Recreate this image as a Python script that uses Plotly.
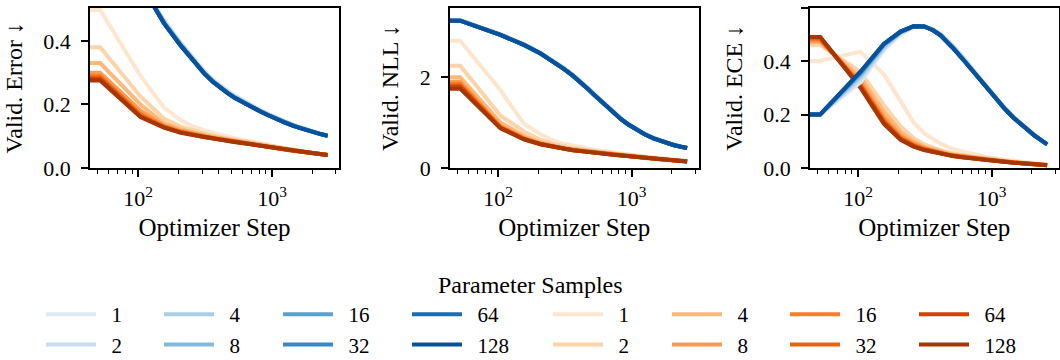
import plotly.graph_objects as go
from plotly.colors import sample_colorscale

# ---------------- data ----------------
STEPS = [52, 104, 156, 208, 260, 312, 364, 416, 468, 520, 624, 728, 832, 936, 1040,
         1248, 1456, 1664, 1872, 2080, 2340, 2600]
SAMPLES = [1, 2, 4, 8, 16, 32, 64, 128]

ERR_BLUE = [
    [0.80, 0.590, 0.465, 0.395, 0.343, 0.305, 0.278, 0.258, 0.243, 0.230, 0.210, 0.194, 0.182, 0.171, 0.162, 0.147, 0.136, 0.127, 0.120, 0.113, 0.107, 0.102],
    [0.80, 0.587, 0.462, 0.392, 0.340, 0.302, 0.275, 0.255, 0.240, 0.227, 0.207, 0.192, 0.180, 0.169, 0.160, 0.146, 0.135, 0.126, 0.119, 0.112, 0.107, 0.102],
    [0.80, 0.585, 0.460, 0.390, 0.338, 0.300, 0.273, 0.253, 0.238, 0.225, 0.205, 0.190, 0.178, 0.168, 0.159, 0.145, 0.134, 0.125, 0.118, 0.112, 0.106, 0.101],
    [0.80, 0.583, 0.458, 0.388, 0.337, 0.299, 0.272, 0.252, 0.237, 0.224, 0.204, 0.189, 0.177, 0.167, 0.158, 0.144, 0.133, 0.125, 0.118, 0.111, 0.106, 0.101],
    [0.80, 0.581, 0.456, 0.386, 0.336, 0.298, 0.271, 0.251, 0.236, 0.223, 0.204, 0.189, 0.177, 0.166, 0.158, 0.143, 0.133, 0.124, 0.117, 0.111, 0.106, 0.101],
    [0.80, 0.580, 0.455, 0.385, 0.335, 0.297, 0.270, 0.250, 0.235, 0.222, 0.203, 0.188, 0.176, 0.166, 0.157, 0.143, 0.132, 0.124, 0.117, 0.111, 0.106, 0.101],
    [0.80, 0.580, 0.455, 0.385, 0.335, 0.297, 0.270, 0.250, 0.235, 0.222, 0.203, 0.188, 0.176, 0.166, 0.157, 0.143, 0.132, 0.124, 0.117, 0.111, 0.106, 0.101],
    [0.80, 0.580, 0.455, 0.385, 0.335, 0.297, 0.270, 0.250, 0.235, 0.222, 0.203, 0.188, 0.176, 0.166, 0.157, 0.143, 0.132, 0.124, 0.117, 0.111, 0.106, 0.101],
]
ERR_ORANGE = [
    [0.497, 0.290, 0.190, 0.150, 0.130, 0.118, 0.110, 0.104, 0.099, 0.094, 0.087, 0.081, 0.076, 0.072, 0.068, 0.062, 0.057, 0.053, 0.050, 0.047, 0.044, 0.042],
    [0.380, 0.225, 0.155, 0.130, 0.118, 0.108, 0.102, 0.097, 0.093, 0.089, 0.083, 0.078, 0.073, 0.070, 0.066, 0.060, 0.056, 0.052, 0.049, 0.047, 0.044, 0.041],
    [0.330, 0.200, 0.140, 0.122, 0.111, 0.103, 0.098, 0.094, 0.090, 0.087, 0.081, 0.076, 0.072, 0.068, 0.065, 0.059, 0.055, 0.052, 0.049, 0.046, 0.043, 0.041],
    [0.300, 0.180, 0.134, 0.117, 0.107, 0.100, 0.095, 0.092, 0.088, 0.085, 0.079, 0.075, 0.071, 0.067, 0.064, 0.059, 0.055, 0.051, 0.048, 0.046, 0.043, 0.041],
    [0.290, 0.170, 0.131, 0.114, 0.105, 0.099, 0.094, 0.090, 0.087, 0.084, 0.078, 0.074, 0.070, 0.067, 0.064, 0.058, 0.054, 0.051, 0.048, 0.046, 0.043, 0.041],
    [0.285, 0.165, 0.129, 0.113, 0.104, 0.098, 0.094, 0.090, 0.086, 0.083, 0.078, 0.073, 0.070, 0.066, 0.063, 0.058, 0.054, 0.051, 0.048, 0.046, 0.043, 0.041],
    [0.280, 0.162, 0.128, 0.112, 0.103, 0.097, 0.093, 0.089, 0.086, 0.082, 0.077, 0.073, 0.069, 0.066, 0.063, 0.058, 0.054, 0.051, 0.048, 0.046, 0.043, 0.041],
    [0.275, 0.160, 0.127, 0.111, 0.103, 0.097, 0.093, 0.089, 0.085, 0.082, 0.077, 0.073, 0.069, 0.066, 0.063, 0.058, 0.054, 0.051, 0.048, 0.046, 0.043, 0.041],
]

NLL_BLUE = [
    [3.25, 2.94, 2.72, 2.53, 2.36, 2.20, 2.05, 1.91, 1.77, 1.64, 1.42, 1.24, 1.10, 0.98, 0.89, 0.76, 0.67, 0.60, 0.55, 0.51, 0.47, 0.45],
    [3.24, 2.93, 2.71, 2.52, 2.35, 2.19, 2.04, 1.90, 1.76, 1.63, 1.41, 1.23, 1.09, 0.97, 0.88, 0.75, 0.66, 0.60, 0.55, 0.51, 0.47, 0.44],
    [3.24, 2.93, 2.71, 2.52, 2.34, 2.18, 2.03, 1.89, 1.75, 1.62, 1.40, 1.22, 1.08, 0.97, 0.88, 0.75, 0.66, 0.59, 0.54, 0.50, 0.47, 0.44],
    [3.23, 2.92, 2.70, 2.51, 2.33, 2.17, 2.02, 1.88, 1.74, 1.61, 1.39, 1.21, 1.07, 0.96, 0.87, 0.74, 0.65, 0.59, 0.54, 0.50, 0.465, 0.44],
    [3.23, 2.92, 2.70, 2.51, 2.33, 2.17, 2.02, 1.88, 1.74, 1.61, 1.39, 1.21, 1.07, 0.96, 0.87, 0.74, 0.65, 0.59, 0.54, 0.50, 0.465, 0.44],
    [3.23, 2.92, 2.70, 2.51, 2.33, 2.17, 2.02, 1.88, 1.74, 1.61, 1.39, 1.21, 1.07, 0.96, 0.87, 0.74, 0.65, 0.59, 0.54, 0.50, 0.465, 0.44],
    [3.23, 2.92, 2.70, 2.51, 2.33, 2.17, 2.02, 1.88, 1.74, 1.61, 1.39, 1.21, 1.07, 0.96, 0.87, 0.74, 0.65, 0.59, 0.54, 0.50, 0.465, 0.44],
    [3.23, 2.92, 2.70, 2.51, 2.33, 2.17, 2.02, 1.88, 1.74, 1.61, 1.39, 1.21, 1.07, 0.96, 0.87, 0.74, 0.65, 0.59, 0.54, 0.50, 0.465, 0.44],
]
NLL_ORANGE = [
    [2.79, 1.71, 0.97, 0.74, 0.60, 0.53, 0.49, 0.45, 0.42, 0.40, 0.37, 0.34, 0.32, 0.30, 0.28, 0.255, 0.235, 0.215, 0.200, 0.185, 0.170, 0.160],
    [2.24, 1.15, 0.80, 0.62, 0.53, 0.48, 0.44, 0.41, 0.39, 0.37, 0.34, 0.31, 0.295, 0.28, 0.26, 0.240, 0.220, 0.200, 0.190, 0.175, 0.163, 0.152],
    [1.99, 1.00, 0.70, 0.56, 0.49, 0.44, 0.41, 0.39, 0.37, 0.35, 0.32, 0.30, 0.285, 0.27, 0.255, 0.232, 0.212, 0.195, 0.183, 0.170, 0.158, 0.148],
    [1.89, 0.93, 0.66, 0.54, 0.47, 0.43, 0.40, 0.38, 0.36, 0.345, 0.315, 0.295, 0.28, 0.265, 0.25, 0.228, 0.208, 0.192, 0.181, 0.167, 0.156, 0.146],
    [1.85, 0.90, 0.65, 0.53, 0.465, 0.425, 0.395, 0.375, 0.355, 0.342, 0.312, 0.292, 0.277, 0.262, 0.247, 0.226, 0.206, 0.191, 0.180, 0.166, 0.155, 0.145],
    [1.81, 0.89, 0.64, 0.525, 0.46, 0.42, 0.39, 0.37, 0.352, 0.34, 0.31, 0.29, 0.275, 0.26, 0.245, 0.225, 0.205, 0.190, 0.180, 0.165, 0.155, 0.145],
    [1.78, 0.88, 0.635, 0.52, 0.46, 0.42, 0.39, 0.37, 0.35, 0.34, 0.31, 0.29, 0.275, 0.26, 0.245, 0.225, 0.205, 0.190, 0.180, 0.165, 0.155, 0.145],
    [1.74, 0.87, 0.63, 0.52, 0.46, 0.42, 0.39, 0.37, 0.35, 0.34, 0.31, 0.29, 0.275, 0.26, 0.245, 0.225, 0.205, 0.190, 0.180, 0.165, 0.155, 0.145],
]

ECE_BLUE = [
    [0.200, 0.320, 0.440, 0.500, 0.526, 0.531, 0.520, 0.503, 0.480, 0.456, 0.410, 0.370, 0.333, 0.299, 0.271, 0.227, 0.192, 0.165, 0.143, 0.124, 0.106, 0.090],
    [0.200, 0.330, 0.447, 0.503, 0.527, 0.530, 0.518, 0.500, 0.476, 0.452, 0.406, 0.366, 0.330, 0.297, 0.269, 0.225, 0.191, 0.164, 0.142, 0.123, 0.105, 0.089],
    [0.200, 0.340, 0.453, 0.506, 0.528, 0.530, 0.517, 0.498, 0.473, 0.449, 0.403, 0.363, 0.328, 0.295, 0.267, 0.224, 0.190, 0.163, 0.141, 0.123, 0.105, 0.089],
    [0.200, 0.348, 0.458, 0.508, 0.529, 0.529, 0.516, 0.497, 0.472, 0.447, 0.402, 0.362, 0.327, 0.294, 0.266, 0.223, 0.189, 0.163, 0.141, 0.122, 0.104, 0.088],
    [0.200, 0.353, 0.461, 0.509, 0.530, 0.529, 0.515, 0.496, 0.471, 0.446, 0.401, 0.361, 0.326, 0.293, 0.265, 0.222, 0.188, 0.162, 0.140, 0.122, 0.104, 0.088],
    [0.200, 0.357, 0.463, 0.510, 0.530, 0.529, 0.515, 0.495, 0.470, 0.445, 0.400, 0.360, 0.325, 0.292, 0.265, 0.222, 0.188, 0.162, 0.140, 0.122, 0.104, 0.088],
    [0.200, 0.359, 0.464, 0.510, 0.530, 0.529, 0.515, 0.495, 0.470, 0.445, 0.400, 0.360, 0.325, 0.292, 0.265, 0.222, 0.188, 0.162, 0.140, 0.122, 0.104, 0.088],
    [0.200, 0.360, 0.465, 0.510, 0.530, 0.529, 0.515, 0.495, 0.470, 0.445, 0.400, 0.360, 0.325, 0.292, 0.265, 0.222, 0.188, 0.162, 0.140, 0.122, 0.104, 0.088],
]
ECE_ORANGE = [
    [0.400, 0.435, 0.350, 0.250, 0.170, 0.130, 0.108, 0.090, 0.079, 0.070, 0.060, 0.052, 0.046, 0.041, 0.037, 0.031, 0.027, 0.024, 0.021, 0.018, 0.015, 0.013],
    [0.460, 0.360, 0.235, 0.155, 0.112, 0.088, 0.075, 0.066, 0.059, 0.054, 0.047, 0.042, 0.038, 0.034, 0.031, 0.026, 0.023, 0.020, 0.018, 0.016, 0.014, 0.012],
    [0.470, 0.340, 0.210, 0.135, 0.100, 0.080, 0.069, 0.061, 0.055, 0.050, 0.044, 0.040, 0.036, 0.033, 0.030, 0.025, 0.022, 0.020, 0.018, 0.016, 0.013, 0.011],
    [0.475, 0.325, 0.190, 0.122, 0.092, 0.075, 0.065, 0.058, 0.052, 0.048, 0.042, 0.038, 0.034, 0.031, 0.029, 0.024, 0.021, 0.019, 0.017, 0.015, 0.013, 0.011],
    [0.480, 0.315, 0.180, 0.115, 0.087, 0.072, 0.062, 0.056, 0.050, 0.047, 0.041, 0.037, 0.033, 0.030, 0.028, 0.024, 0.021, 0.018, 0.016, 0.015, 0.012, 0.011],
    [0.485, 0.310, 0.175, 0.110, 0.084, 0.070, 0.061, 0.054, 0.049, 0.046, 0.040, 0.036, 0.033, 0.030, 0.028, 0.023, 0.020, 0.018, 0.016, 0.014, 0.012, 0.010],
    [0.490, 0.305, 0.170, 0.108, 0.082, 0.068, 0.060, 0.053, 0.048, 0.045, 0.039, 0.035, 0.032, 0.029, 0.027, 0.023, 0.020, 0.018, 0.016, 0.014, 0.012, 0.010],
    [0.490, 0.300, 0.165, 0.105, 0.080, 0.067, 0.059, 0.052, 0.048, 0.044, 0.039, 0.035, 0.032, 0.029, 0.027, 0.023, 0.020, 0.018, 0.016, 0.014, 0.012, 0.010],
]

Y_TITLES = ["Valid. Error ↓", "Valid. NLL ↓", "Valid. ECE ↓"]
Y_RANGES = [[0, 0.505], [0, 3.52], [0, 0.6]]
Y_DTICKS = [0.2, 2, 0.2]
Y_FORMATS = [".1f", "d", ".1f"]
X_TITLE = "Optimizer Step"
X_TICKVALS = [100, 1000]
X_TICKTEXT = ["10<sup>2</sup>", "10<sup>3</sup>"]
X_MINOR = [50, 60, 70, 80, 90, 200, 300, 400, 500, 600, 700, 800, 900, 2000, 3000]
LEGEND_TITLE = "Parameter Samples"

# ---------------- style ----------------
FONT = "Times New Roman"
W, H = 1060, 360
XLOG = [1.64, 3.50]
X_DOMAINS = [[90 / W, 339 / W], [450 / W, 698.5 / W], [810 / W, 1058.5 / W]]
Y_DOMAIN = [1 - 168 / H, 1 - 7.5 / H]
LINE_W = 4
LABEL_PAD = "\u00a0\u00a0"  # gap between legend handle and its label

positions = [0.125 + i * 0.75 / 7 for i in range(8)]
BLUES = sample_colorscale("Blues", positions)
ORANGES = sample_colorscale("Oranges", positions)

LEGEND_LINE_X = [46, 164, 283, 412, 553, 672, 790, 919]

fig = go.Figure()

metrics = [(ERR_BLUE, ERR_ORANGE), (NLL_BLUE, NLL_ORANGE), (ECE_BLUE, ECE_ORANGE)]
x_left = 10 ** XLOG[0]
for p, (blue, orange) in enumerate(metrics):
    axis_suffix = "" if p == 0 else str(p + 1)
    for fam, data, colors, col_off in (("o", orange, ORANGES, 4), ("b", blue, BLUES, 0)):
        for i, n in enumerate(SAMPLES):
            vals = data[i]
            # first logged value carried to the left edge (how the clipped step-0 point renders)
            xs = [x_left] + STEPS
            ys = [vals[0]] + vals
            leg_idx = col_off + i // 2
            legname = "legend" if leg_idx == 0 else f"legend{leg_idx + 1}"
            fig.add_trace(go.Scatter(
                x=xs, y=ys, mode="lines",
                line=dict(color=colors[i], width=LINE_W),
                name=LABEL_PAD + str(n), legendgroup=f"{fam}{n}",
                showlegend=(p == 0), legend=legname,
                xaxis="x" + axis_suffix, yaxis="y" + axis_suffix,
                hoverinfo="skip",
            ))

layout = dict(
    width=W, height=H,
    margin=dict(l=0, r=0, t=0, b=0, autoexpand=False),
    paper_bgcolor="white", plot_bgcolor="white",
    font=dict(family=FONT, size=20, color="black"),
    showlegend=True,
)
for p in range(3):
    sfx = "" if p == 0 else str(p + 1)
    layout["xaxis" + sfx] = dict(
        type="log", range=XLOG, domain=X_DOMAINS[p], anchor="y" + sfx,
        tickmode="array", tickvals=X_TICKVALS, ticktext=X_TICKTEXT,
        ticks="outside", ticklen=7, tickwidth=1.5, tickcolor="black",
        minor=dict(tickmode="array", tickvals=X_MINOR, ticks="outside", ticklen=4, tickwidth=1, tickcolor="black"),
        showline=True, linecolor="black", linewidth=1.6, mirror=True,
        showgrid=False, zeroline=False, ticklabelstandoff=3,
        tickfont=dict(family=FONT, size=22),
        title=dict(text=X_TITLE, font=dict(family=FONT, size=25), standoff=8),
    )
    layout["yaxis" + sfx] = dict(
        range=Y_RANGES[p], domain=Y_DOMAIN, anchor="x" + sfx,
        dtick=Y_DTICKS[p], tick0=0, tickformat=Y_FORMATS[p],
        ticks="outside", ticklen=7, tickwidth=1.5, tickcolor="black",
        showline=True, linecolor="black", linewidth=1.6, mirror=True,
        showgrid=False, zeroline=False, ticklabelstandoff=6,
        tickfont=dict(family=FONT, size=22),
        title=dict(text=Y_TITLES[p], font=dict(family=FONT, size=24), standoff=14),
    )

ITEMWIDTH = 50
for k in range(8):
    key = "legend" if k == 0 else f"legend{k + 1}"
    layout[key] = dict(
        x=(LEGEND_LINE_X[k] - 5) / W, xanchor="left",
        y=1 - 294 / H, yanchor="top",
        orientation="v", traceorder="grouped", tracegroupgap=0,
        itemwidth=ITEMWIDTH,
        bgcolor="rgba(0,0,0,0)", borderwidth=0,
        font=dict(family=FONT, size=21, color="black"),
        itemclick=False, itemdoubleclick=False,
    )

layout["annotations"] = [dict(
    text=LEGEND_TITLE, x=0.5, y=1 - 285 / H, xref="paper", yref="paper",
    xanchor="center", yanchor="middle", showarrow=False,
    font=dict(family=FONT, size=24, color="black"),
)]

fig.update_layout(**layout)
fig.write_html("out.html")
